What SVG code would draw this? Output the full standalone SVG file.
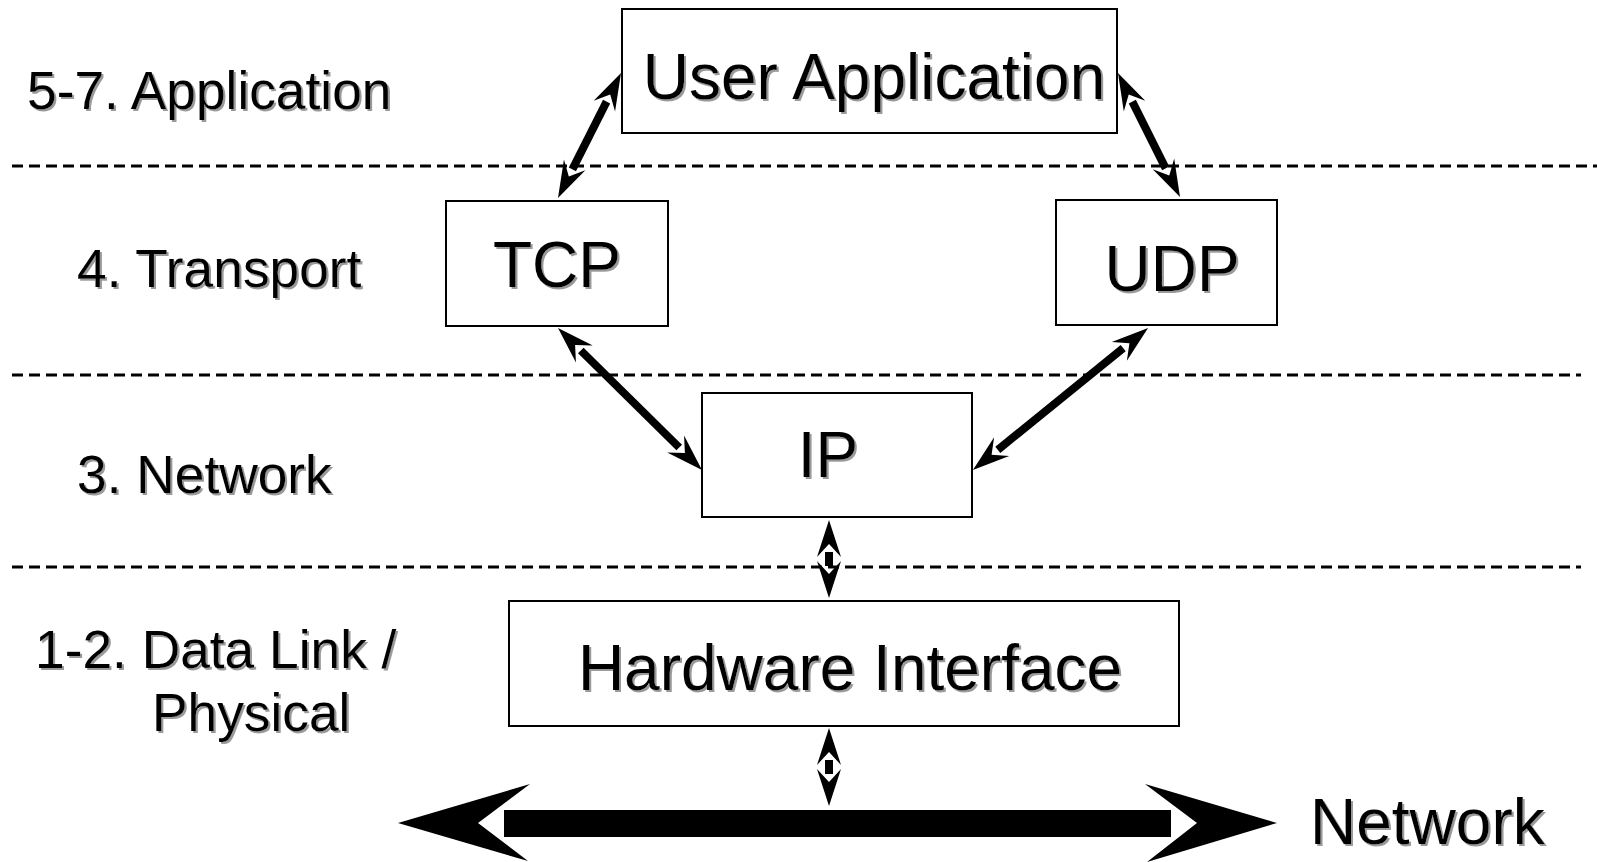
<svg xmlns="http://www.w3.org/2000/svg" width="1597" height="862" viewBox="0 0 1597 862">
<style>
.bg{fill:#fff}
.box{fill:#fff;stroke:#000;stroke-width:2}
.lbl{font-family:"Liberation Sans",Arial,sans-serif;fill:#000;filter:url(#sh)}
.node{font-size:64px;text-anchor:middle}
.layer{font-size:53.3px}
.dash{stroke:#000;stroke-width:3;stroke-dasharray:11 6;fill:none}
.shaft{stroke:#000;stroke-width:8;fill:none;marker-start:url(#ah);marker-end:url(#ah)}
</style>
<defs>
<filter id="sh" x="-5%" y="-20%" width="110%" height="140%">
<feDropShadow dx="2" dy="2" stdDeviation="0.6" flood-color="#9a9a9a" flood-opacity="1"/>
</filter>
<marker id="ah" viewBox="0 0 38 26" markerWidth="38" markerHeight="26" markerUnits="userSpaceOnUse" refX="5" refY="13" orient="auto-start-reverse">
<path d="M37,13 L0,1 L13,13 L0,25 Z" fill="#000"/>
</marker>
</defs>
<rect class="bg" x="0" y="0" width="1597" height="862"/>

<g id="layers">
<line class="dash" x1="12" y1="166" x2="1597" y2="166"/>
<line class="dash" x1="12" y1="375" x2="1581" y2="375"/>
<line class="dash" x1="12" y1="567" x2="1581" y2="567"/>
<text class="lbl layer" x="27" y="109">5-7. Application</text>
<text class="lbl layer" x="77" y="287">4. Transport</text>
<text class="lbl layer" x="77" y="493">3. Network</text>
<text class="lbl layer" x="35" y="668">1-2. Data Link /</text>
<text class="lbl layer" x="152" y="731">Physical</text>
</g>

<g id="user-application">
<rect class="box" x="622" y="9" width="495" height="124"/>
<text class="lbl node" x="874" y="99">User Application</text>
</g>
<g id="tcp">
<rect class="box" x="446" y="201" width="222" height="125"/>
<text class="lbl node" x="557" y="287">TCP</text>
</g>
<g id="udp">
<rect class="box" x="1056" y="200" width="221" height="125"/>
<text class="lbl node" x="1172" y="291">UDP</text>
</g>
<g id="ip">
<rect class="box" x="702" y="393" width="270" height="124"/>
<text class="lbl node" x="828" y="477">IP</text>
</g>
<g id="hardware-interface">
<rect class="box" x="509" y="601" width="670" height="125"/>
<text class="lbl node" x="850" y="690">Hardware Interface</text>
</g>
<g id="network">
<rect x="504" y="810" width="667" height="27" fill="#000"/>
<polygon points="398,823 530,784 478,823 528,861" fill="#000"/>
<polygon points="1277,823 1145,784 1197,823 1147,862" fill="#000"/>
<text class="lbl" x="1310" y="844" font-size="64">Network</text>
</g>

<g id="connectors">
<line class="shaft" x1="606.6" y1="101.6" x2="572.4" y2="169.4"/>
<line class="shaft" x1="1132.3" y1="101.6" x2="1165.7" y2="168.4"/>
<line class="shaft" x1="580.8" y1="350.5" x2="679.2" y2="447.5"/>
<line class="shaft" x1="1123.2" y1="348.2" x2="997.8" y2="449.8"/>
<line class="shaft" x1="829" y1="552" x2="829" y2="566"/>
<line class="shaft" x1="829" y1="760" x2="829" y2="774"/>
</g>
</svg>
